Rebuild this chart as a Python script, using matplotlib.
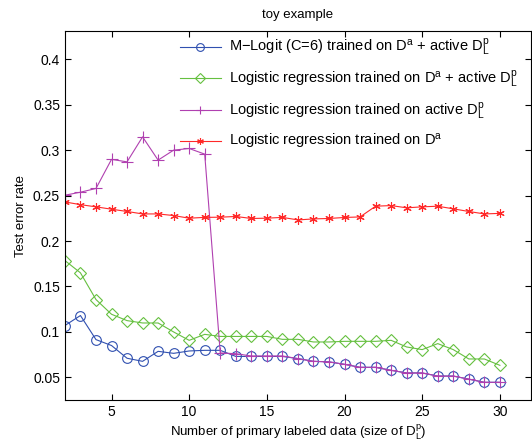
import matplotlib.pyplot as plt
import numpy as np

plt.rcParams['font.family'] = 'Liberation Sans'
plt.rcParams['mathtext.fontset'] = 'custom'
plt.rcParams['mathtext.rm'] = 'Liberation Sans'
plt.rcParams['mathtext.it'] = 'Liberation Sans'

n_labeled = list(range(2, 31))

mlogit = [0.107, 0.118, 0.0915, 0.085, 0.071, 0.0676, 0.0786, 0.0764, 0.079, 0.0797,
          0.0797, 0.073, 0.073, 0.073, 0.073, 0.0706, 0.0676, 0.067, 0.0643, 0.061,
          0.061, 0.0577, 0.0548, 0.0548, 0.0514, 0.0514, 0.048, 0.0445, 0.0445]
logreg_both = [0.1785, 0.165, 0.1356, 0.1194, 0.1124, 0.1098, 0.1098, 0.0999, 0.0907, 0.0973,
               0.095, 0.095, 0.095, 0.095, 0.0918, 0.0918, 0.0889, 0.0889, 0.0896, 0.0896,
               0.0896, 0.0907, 0.0834, 0.0805, 0.0871, 0.0805, 0.0702, 0.0702, 0.0632]
logreg_active = [0.2504, 0.2537, 0.2578, 0.2898, 0.2871, 0.3146, 0.289, 0.300, 0.3018, 0.2956,
                 0.0768, 0.076, 0.0735, 0.0735, 0.0735, 0.0706, 0.0676, 0.067, 0.0643, 0.061,
                 0.061, 0.0577, 0.0548, 0.0548, 0.0514, 0.0514, 0.048, 0.0445, 0.0445]
logreg_da = [0.243, 0.240, 0.2376, 0.235, 0.2325, 0.2298, 0.2298, 0.228, 0.2251, 0.226,
             0.2262, 0.227, 0.2248, 0.2251, 0.226, 0.2232, 0.2243, 0.2248, 0.2259, 0.2265,
             0.2383, 0.239, 0.2365, 0.2376, 0.2383, 0.2354, 0.2325, 0.2298, 0.2304]

labels = [r'M$-$Logit (C=6) trained on D$^{a}$ + active D$_{L}^{p}$',
          r'Logistic regression trained on D$^{a}$ + active D$_{L}^{p}$',
          r'Logistic regression trained on active D$_{L}^{p}$',
          r'Logistic regression trained on D$^{a}$']

fig = plt.figure(figsize=(5.32, 4.44), dpi=100)
ax = fig.add_axes([0.122, 0.099, 0.876, 0.831])

ax.plot(n_labeled, mlogit, color='#3050b0', lw=0.8, marker='o', ms=7,
        mfc='none', mec='#3050b0', mew=0.8, label=labels[0])
ax.plot(n_labeled, logreg_both, color='#66c040', lw=0.8, marker='D', ms=6,
        mfc='none', mec='#66c040', mew=0.8, label=labels[1])
ax.plot(n_labeled, logreg_active, color='#b040b0', lw=0.8, marker='+', ms=8,
        mew=0.8, label=labels[2])
ax.plot(n_labeled, logreg_da, color='#ff2828', lw=0.8, marker=(6, 2, 0), ms=6,
        mew=0.8, label=labels[3])

ax.set_xlim(2, 32)
ax.set_ylim(0.025, 0.431)
ax.set_xticks([5, 10, 15, 20, 25, 30])
ax.set_yticks([0.05, 0.1, 0.15, 0.2, 0.25, 0.3, 0.35, 0.4])
ax.set_yticklabels(['0.05', '0.1', '0.15', '0.2', '0.25', '0.3', '0.35', '0.4'])
ax.tick_params(direction='in', top=True, right=True, labelsize=10, length=4)
for s in ax.spines.values():
    s.set_linewidth(0.8)

ax.set_title('toy example', fontsize=9.5, pad=9.5)
ax.set_xlabel(r'Number of primary labeled data (size of D$_{L}^{p}$)', fontsize=9.5, labelpad=3)
ax.set_ylabel('Test error rate', fontsize=9.5)

ax.legend(loc='upper right', bbox_to_anchor=(1.0, 1.02), frameon=False, fontsize=10.5,
          handlelength=2.8, handletextpad=0.55, labelspacing=0.72, markerscale=0.8)

plt.savefig('out.png', dpi=100)
